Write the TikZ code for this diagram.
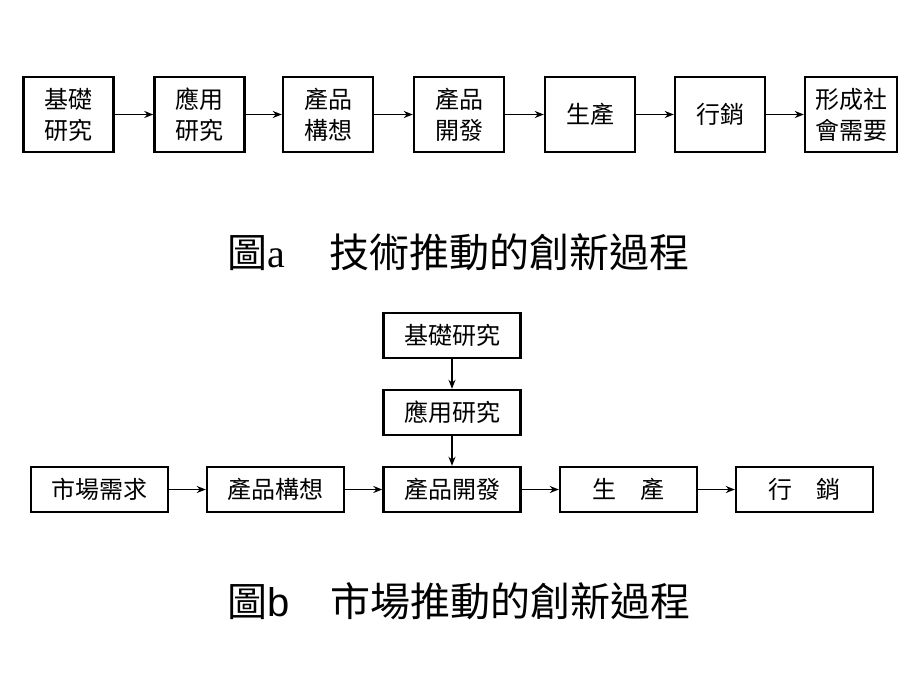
\documentclass[tikz,border=0pt]{standalone}
\usepackage{fontspec}
\setmainfont{Liberation Serif}
\newfontfamily\cjk{Noto Sans CJK TC}
\newfontfamily\latsans{Liberation Sans}
\usetikzlibrary{arrows.meta}
\begin{document}
\begin{tikzpicture}[x=1pt,y=-1pt,
  boxa/.style={draw,line width=2.4pt,minimum width=90pt,minimum height=75pt,inner sep=0pt,align=center,font=\cjk\fontsize{24}{31}\selectfont},
  boxb/.style={draw,line width=2.4pt,minimum width=137pt,minimum height=45pt,inner sep=0pt,font=\cjk\fontsize{24}{30}\selectfont},
  arr/.style={line width=1.8pt,-{Stealth[length=9pt,width=7pt]}},
  title/.style={anchor=west,inner sep=0pt,font=\fontsize{40}{40}\selectfont}]
\useasboundingbox (0,0) rectangle (920,690);
% top row
\node[boxa] (a1) at (68.5,114.5) {基礎\\研究};
\node[boxa] (a2) at (199.5,114.5) {應用\\研究};
\node[boxa] (a3) at (328,114.5) {產品\\構想};
\node[boxa] (a4) at (459,114.5) {產品\\開發};
\node[boxa] (a5) at (590,114.5) {生產};
\node[boxa] (a6) at (720,114.5) {行銷};
\node[boxa,minimum width=92pt] (a7) at (851,114.5) {形成社\\會需要};
\foreach \i/\j in {a1/a2,a2/a3,a3/a4,a4/a5,a5/a6,a6/a7}
  \draw[arr] (\i.east) -- (\j.west);
\node[title] (ta) at (227,252) {{\cjk 圖}a\hspace{45pt}{\cjk 技術推動的創新過程}};
% bottom diagram
\node[boxb] (r1) at (452,335.5) {基礎研究};
\node[boxb] (r2) at (452,412.5) {應用研究};
\node[boxb] (b1) at (99.5,489.5) {市場需求};
\node[boxb] (b2) at (275.5,489.5) {產品構想};
\node[boxb] (b3) at (452,489.5) {產品開發};
\node[boxb] (b4) at (628.5,489.5) {生\hspace{1em}產};
\node[boxb] (b5) at (804.5,489.5) {行\hspace{1em}銷};
\foreach \i/\j in {b1/b2,b2/b3,b3/b4,b4/b5}
  \draw[arr] (\i.east) -- (\j.west);
\draw[arr] (r1.south) -- (r2.north);
\draw[arr] (r2.south) -- (b3.north);
\node[title] (tb) at (227,601) {{\cjk 圖}{\latsans b}\hspace{41pt}{\cjk 市場推動的創新過程}};
\end{tikzpicture}
\end{document}
